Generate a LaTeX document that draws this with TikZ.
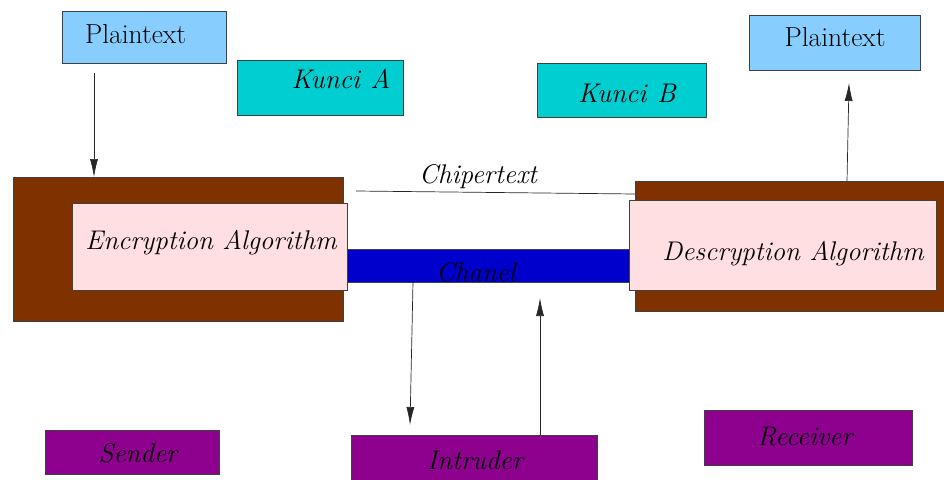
\documentclass[tikz,border=0pt]{standalone}
\usetikzlibrary{arrows.meta}
\definecolor{brownbox}{RGB}{128,49,0}
\definecolor{pinkbox}{RGB}{255,223,226}
\definecolor{skybox}{RGB}{135,206,255}
\definecolor{keybox}{RGB}{0,206,209}
\definecolor{chanblue}{RGB}{0,0,204}
\definecolor{purplebox}{RGB}{142,0,142}
\tikzset{
 box/.style={draw=black!75, line width=0.7pt, anchor=north west, inner sep=0pt, outer sep=0pt},
 lbl/.style={anchor=base, inner sep=0pt, font=\fontsize{27}{31}\selectfont\itshape},
 rlbl/.style={anchor=base, inner sep=0pt, font=\fontsize{27.5}{32}\selectfont},
 arr/.style={draw=black!85, line width=0.7pt, -{Latex[length=18pt,width=8pt]}},
 plainline/.style={draw=black!85, line width=0.7pt},
}
\begin{document}
\begin{tikzpicture}[x=1pt,y=-1pt]
\useasboundingbox (0,0) rectangle (944,479);
% top boxes
\node[box, fill=skybox, minimum width=164pt, minimum height=52pt] (ptA) at (62,11) {};
\node[box, fill=skybox, minimum width=171pt, minimum height=55pt] (ptB) at (749,15) {};
\node[box, fill=keybox, minimum width=166pt, minimum height=55pt] (keyA) at (237,60) {};
\node[box, fill=keybox, minimum width=169pt, minimum height=54pt] (keyB) at (537,63) {};
% brown frames
\node[box, fill=brownbox, minimum width=330pt, minimum height=144pt] (encB) at (13,177) {};
\node[box, fill=brownbox, minimum width=314pt, minimum height=130pt] (decB) at (635,181) {};
% channel
\node[box, fill=chanblue, minimum width=282pt, minimum height=33pt] (chan) at (347,249) {};
% pink algorithm boxes
\node[box, fill=pinkbox, minimum width=275pt, minimum height=87pt] (enc) at (72,203) {};
\node[box, fill=pinkbox, minimum width=307pt, minimum height=90pt] (dec) at (629,200) {};
% bottom boxes
\node[box, fill=purplebox, minimum width=174pt, minimum height=44pt] (send) at (45,430) {};
\node[box, fill=purplebox, minimum width=246pt, minimum height=50pt] (intr) at (351,435) {};
\node[box, fill=purplebox, minimum width=208pt, minimum height=55pt] (recv) at (704,410) {};
% labels
\node[rlbl] (tptA) at (135.5,43) {Plaintext};
\node[rlbl] (tptB) at (835,46) {Plaintext};
\node[lbl] (tkeyA) at (341,88) {Kunci\hspace{0.4em}A};
\node[lbl] (tkeyB) at (627,102) {Kunci\hspace{0.4em}B};
\node[lbl] (tchip) at (478,183) {Chipertext};
\node[lbl] (tenc) at (211,249) {Encryption Algorithm};
\node[lbl] (tdec) at (793,260) {Descryption Algorithm};
\node[lbl] (tchan) at (476,281) {Chanel};
\node[lbl] (tsend) at (138,462) {Sender};
\node[lbl] (tintr) at (475,469) {Intruder};
\node[lbl] (trecv) at (805,445) {Receiver};
% connectors
\draw[arr] ([xshift=32pt,yshift=-10pt]ptA.south west) -- ([xshift=81pt]encB.north west);
\draw[arr] ([xshift=212pt]decB.north west) -- ([xshift=100pt,yshift=-13pt]ptB.south west);
\draw[plainline] ([xshift=13pt,yshift=-14pt]encB.north east) -- ([yshift=-13pt]decB.north west);
\draw[arr] ([xshift=66pt]chan.south west) -- ([xshift=59pt,yshift=10pt]intr.north west);
\draw[arr] ([xshift=189pt]intr.north west) -- ([xshift=193pt,yshift=-16pt]chan.south west);
\end{tikzpicture}
\end{document}
